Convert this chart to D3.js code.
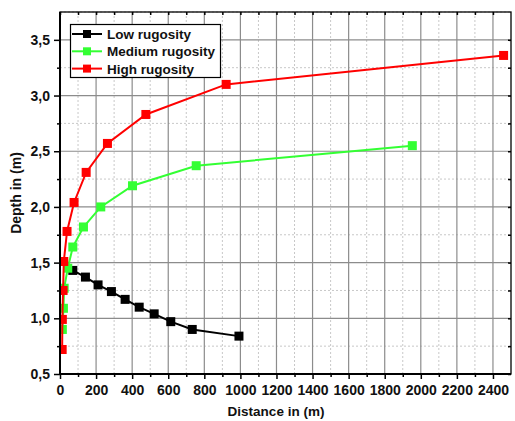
<!DOCTYPE html>
<html>
<head>
<meta charset="utf-8">
<script src="https://cdn.jsdelivr.net/npm/d3@7"></script>
<style>
  body { margin: 0; background: #fff; }
  text { font-family: "Liberation Sans", Arial, sans-serif; font-weight: bold; }
</style>
</head>
<body>
<div id="canvas"></div>
<script>
"use strict"

/* canvas + plot area */
let svgWidth = 515;
let svgHeight = 421;
let plotLeft = 60, plotRight = 511, plotTop = 12, plotBottom = 374;

/* data: distance (m) and depth (m) per series */
let lowDist = [71, 141, 211, 285, 361, 439, 522, 614, 733, 992];
let lowDepth = [1.43, 1.37, 1.30, 1.24, 1.17, 1.10, 1.04, 0.97, 0.90, 0.84];

let medDist = [13, 19, 23, 43, 71, 130, 226, 402, 755, 1953];
let medDepth = [0.90, 1.09, 1.27, 1.45, 1.64, 1.82, 2.00, 2.19, 2.37, 2.55];

let highDist = [12, 13, 17, 21, 39, 78, 145, 263, 476, 921, 2459];
let highDepth = [0.72, 0.99, 1.25, 1.51, 1.78, 2.04, 2.31, 2.57, 2.83, 3.10, 3.36];

let seriesNames = ["Low rugosity", "Medium rugosity", "High rugosity"];
let seriesColors = ["#000000", "#33ff33", "#ff0000"];

let xTicks = d3.range(0, 2401, 200);
let xMinor = d3.range(100, 2500, 200);
let yTicks = [0.5, 1.0, 1.5, 2.0, 2.5, 3.0, 3.5];
let yMinor = [0.75, 1.25, 1.75, 2.25, 2.75, 3.25, 3.75];

let svg = d3.select("#canvas")
    .append("svg")
    .attr("width", svgWidth)
    .attr("height", svgHeight);

let xScale = d3.scaleLinear()
    .domain([0, 2500])
    .range([plotLeft, plotRight]);

let yScale = d3.scaleLinear()
    .domain([0.5, 3.75])
    .range([plotBottom, plotTop]);

svg.append("clipPath")
    .attr("id", "plotClip")
    .append("rect")
    .attr("x", plotLeft + 1)
    .attr("y", plotTop)
    .attr("width", plotRight - plotLeft - 1)
    .attr("height", plotBottom - plotTop);

/* minor grid (dashed) */
let grid = svg.append("g");
grid.selectAll(".vminor")
    .data(xMinor)
    .join("line")
    .attr("x1", d => xScale(d)).attr("x2", d => xScale(d))
    .attr("y1", plotTop).attr("y2", plotBottom)
    .attr("stroke", "#c8c8c8")
    .attr("stroke-dasharray", "2,2");
grid.selectAll(".hminor")
    .data(yMinor)
    .join("line")
    .attr("x1", plotLeft).attr("x2", plotRight)
    .attr("y1", d => yScale(d)).attr("y2", d => yScale(d))
    .attr("stroke", "#c8c8c8")
    .attr("stroke-dasharray", "2,2");

/* major grid (solid) */
grid.selectAll(".vmajor")
    .data(xTicks)
    .join("line")
    .attr("x1", d => xScale(d)).attr("x2", d => xScale(d))
    .attr("y1", plotTop).attr("y2", plotBottom)
    .attr("stroke", "#8c8c8c")
    .attr("stroke-width", 1.2);
grid.selectAll(".hmajor")
    .data(yTicks)
    .join("line")
    .attr("x1", plotLeft).attr("x2", plotRight)
    .attr("y1", d => yScale(d)).attr("y2", d => yScale(d))
    .attr("stroke", "#8c8c8c")
    .attr("stroke-width", 1.2);

/* bottom + left axes, ticks outward */
let xAxis = d3.axisBottom(xScale)
    .tickValues(xTicks)
    .tickSize(5)
    .tickPadding(6)
    .tickFormat(d3.format("d"));
let gx = svg.append("g")
    .attr("transform", "translate(0," + plotBottom + ")")
    .call(xAxis);

let gxMinor = svg.append("g")
    .attr("transform", "translate(0," + plotBottom + ")")
    .call(d3.axisBottom(xScale).tickValues(xMinor).tickSize(3).tickFormat(""));

let yAxis = d3.axisLeft(yScale)
    .tickValues(yTicks)
    .tickSize(6)
    .tickPadding(4)
    .tickFormat(d => d3.format(".1f")(d).replace(".", ","));
let gy = svg.append("g")
    .attr("transform", "translate(" + plotLeft + ",0)")
    .call(yAxis);

let gyMinor = svg.append("g")
    .attr("transform", "translate(" + plotLeft + ",0)")
    .call(d3.axisLeft(yScale).tickValues(yMinor.slice(0, 6)).tickSize(3).tickFormat(""));

/* top + right mirror axes, ticks inward */
svg.append("g")
    .attr("transform", "translate(0," + plotTop + ")")
    .call(d3.axisBottom(xScale).tickValues(xTicks.concat(xMinor)).tickSize(3).tickFormat(""));
svg.append("g")
    .attr("transform", "translate(" + plotRight + ",0)")
    .call(d3.axisLeft(yScale).tickValues(yTicks.concat(yMinor.slice(0, 6))).tickSize(3).tickFormat(""));

svg.selectAll(".domain").remove();
svg.selectAll(".tick line").attr("stroke", "#000").attr("stroke-width", 1.5);
svg.selectAll(".tick text")
    .attr("fill", "#111")
    .style("font-size", "14px")
    .style("font-family", "'Liberation Sans', Arial, sans-serif")
    .style("font-weight", "bold");

/* frame */
svg.append("rect")
    .attr("x", plotLeft).attr("y", plotTop)
    .attr("width", plotRight - plotLeft)
    .attr("height", plotBottom - plotTop)
    .attr("fill", "none")
    .attr("stroke", "#000")
    .attr("stroke-width", 1.3);
svg.append("line")
    .attr("x1", plotLeft).attr("x2", plotLeft)
    .attr("y1", plotTop).attr("y2", plotBottom + 1)
    .attr("stroke", "#000").attr("stroke-width", 2);
svg.append("line")
    .attr("x1", plotLeft - 1).attr("x2", plotRight)
    .attr("y1", plotBottom).attr("y2", plotBottom)
    .attr("stroke", "#000").attr("stroke-width", 2);

/* series */
let allSeries = [
    { dist: lowDist, depth: lowDepth },
    { dist: medDist, depth: medDepth },
    { dist: highDist, depth: highDepth }
];

let line = d3.line()
    .x(d => xScale(d[0]))
    .y(d => yScale(d[1]));

let plotArea = svg.append("g").attr("clip-path", "url(#plotClip)");

allSeries.forEach(function (s, i) {
    let pts = s.dist.map((d, j) => [d, s.depth[j]]);
    plotArea.append("path")
        .datum(pts)
        .attr("fill", "none")
        .attr("stroke", seriesColors[i])
        .attr("stroke-width", 2)
        .attr("d", line);
    plotArea.selectAll(null)
        .data(pts)
        .join("rect")
        .attr("x", d => xScale(d[0]) - 4.5)
        .attr("y", d => yScale(d[1]) - 4.5)
        .attr("width", 9)
        .attr("height", 9)
        .attr("fill", seriesColors[i]);
});

/* legend */
let legend = svg.append("g");
legend.append("rect")
    .attr("x", 70.5).attr("y", 24.5)
    .attr("width", 150).attr("height", 53)
    .attr("fill", "#fff")
    .attr("stroke", "#000")
    .attr("stroke-width", 1.2);

seriesNames.forEach(function (name, i) {
    let ly = 34 + i * 17.3;
    legend.append("line")
        .attr("x1", 72).attr("x2", 102)
        .attr("y1", ly).attr("y2", ly)
        .attr("stroke", seriesColors[i])
        .attr("stroke-width", 2);
    legend.append("rect")
        .attr("x", 83).attr("y", ly - 4)
        .attr("width", 8).attr("height", 8)
        .attr("fill", seriesColors[i]);
    legend.append("text")
        .attr("x", 107)
        .attr("y", ly + 5)
        .style("font-size", "13.5px")
        .attr("fill", "#111")
        .text(name);
});

/* axis titles */
svg.append("text")
    .attr("x", 276)
    .attr("y", 416)
    .attr("text-anchor", "middle")
    .style("font-size", "13.5px")
    .attr("fill", "#111")
    .text("Distance in (m)");

svg.append("text")
    .attr("transform", "translate(21," + ((plotTop + plotBottom) / 2) + ") rotate(-90)")
    .attr("text-anchor", "middle")
    .style("font-size", "14px")
    .attr("fill", "#111")
    .text("Depth in (m)");
</script>
</body>
</html>
